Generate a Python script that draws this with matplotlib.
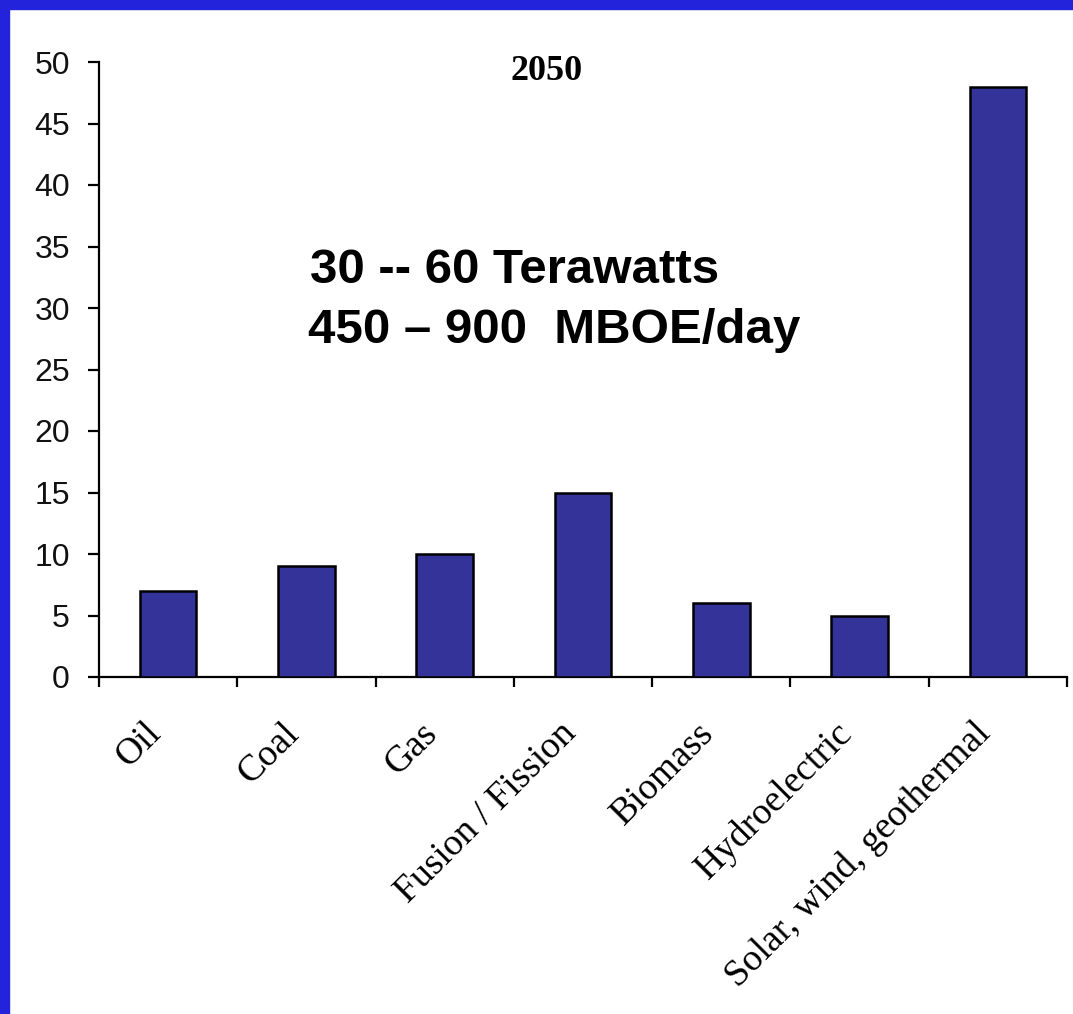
import matplotlib
matplotlib.use("Agg")
import matplotlib.pyplot as plt
from matplotlib.patches import Rectangle
import numpy as np

categories = ["Oil", "Coal", "Gas", "Fusion / Fission", "Biomass", "Hydroelectric", "Solar, wind, geothermal"]
values = [7, 9, 10, 15, 6, 5, 48]
yticks = [0, 5, 10, 15, 20, 25, 30, 35, 40, 45, 50]
title = "2050"
note_line1 = "30 -- 60 Terawatts"
note_line2 = "450 \u2013 900  MBOE/day"

W, H = 1073, 1014
fig = plt.figure(figsize=(W / 100, H / 100), dpi=100)
fig.patch.set_facecolor("white")

# blue frame (top and left)
border = "#2323DC"
fig.patches.append(Rectangle((0, 1 - 9 / H), 1, 9 / H, transform=fig.transFigure, color=border, zorder=10))
fig.patches.append(Rectangle((0, 0), 9 / W, 1, transform=fig.transFigure, color=border, zorder=10))

ax = fig.add_axes([99 / W, 1 - 677 / H, (1067 - 99) / W, (677 - 62) / H])
x = np.arange(len(categories))
ax.bar(x, values, width=0.41, color="#333399", edgecolor="black", linewidth=1.8, zorder=3)

ax.set_xlim(-0.5, len(categories) - 0.5)
ax.set_ylim(0, 50)
for s in ["top", "right"]:
    ax.spines[s].set_visible(False)
for s in ["left", "bottom"]:
    ax.spines[s].set_linewidth(1.6)
    ax.spines[s].set_color("black")

ax.set_yticks(yticks)
ax.set_yticklabels([str(v) for v in yticks], fontfamily="Liberation Sans", fontsize=23, color="#111111")
ax.tick_params(axis="y", direction="out", length=8, width=1.6, pad=13)

ax.set_xticks(np.arange(-0.5, len(categories) + 0.5, 1.0))
ax.set_xticklabels([])
ax.tick_params(axis="x", which="major", direction="out", length=7, width=1.6)
ax.set_xticks(x, minor=True)
ax.set_xticklabels(categories, minor=True, rotation=45, ha="right", va="top",
                   fontfamily="Liberation Serif", fontsize=27)
ax.tick_params(axis="x", which="minor", length=0, pad=28)

ax.text(547 / W, 1 - 71 / H, title, transform=fig.transFigure, ha="center", va="center",
        fontfamily="Liberation Serif", fontweight="bold", fontsize=26)
ax.text(310 / W, 1 - 283 / H, note_line1, transform=fig.transFigure, ha="left", va="baseline",
        fontfamily="Liberation Sans", fontweight="bold", fontsize=35.5)
ax.text(308 / W, 1 - 343 / H, note_line2, transform=fig.transFigure, ha="left", va="baseline",
        fontfamily="Liberation Sans", fontweight="bold", fontsize=35.5)

fig.savefig("out.png", dpi=100, facecolor="white")
